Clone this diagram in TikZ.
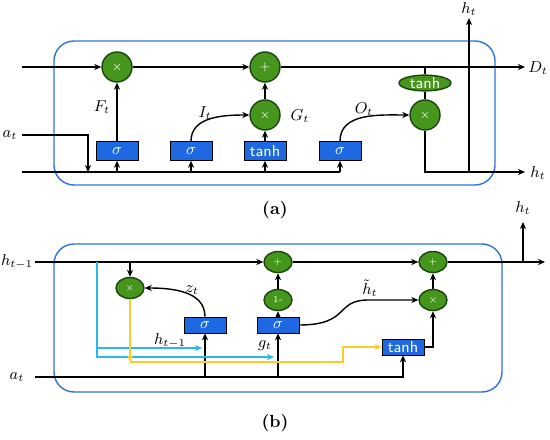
\documentclass[tikz,border=0pt]{standalone}
\usepackage{amsmath}
\usetikzlibrary{arrows.meta, shapes.geometric}

\definecolor{boxblue}{RGB}{30,105,225}
\definecolor{cellgreen}{RGB}{70,150,30}
\definecolor{darkgreen}{RGB}{25,70,10}
\definecolor{frameblue}{RGB}{45,115,215}
\definecolor{lineblue}{RGB}{40,185,235}
\definecolor{lineyellow}{RGB}{250,205,40}

\tikzset{
  gatebox/.style={draw=black, fill=boxblue, text=white, minimum width=0.84cm,
    minimum height=0.38cm, inner sep=0pt, font=\small\sffamily},
  opnode/.style={circle, draw=darkgreen, thick, fill=cellgreen, text=white,
    minimum size=0.6cm, inner sep=0pt, font=\scriptsize},
  opnodeb/.style={ellipse, draw=darkgreen, thick, fill=cellgreen, text=white,
    minimum width=0.56cm, minimum height=0.42cm, inner sep=0pt, font=\tiny},
  flow/.style={thick, -{Stealth[length=4pt,width=3.5pt]}},
  cellframe/.style={draw=frameblue, thick, rounded corners=0.4cm},
  lbl/.style={font=\small},
}

\begin{document}
\begin{tikzpicture}[x=0.02cm, y=-0.02cm]
  \useasboundingbox (0,0) rectangle (550,439);
  % Panel (a)
  \draw[cellframe] (54,41) rectangle (495,185);
  \node[opnode] (fmul) at (117,67) {$\times$};
  \node[opnode] (cadd) at (265,67) {$+$};
  \node[opnode] (imul) at (265,115) {$\times$};
  \node[opnode] (omul) at (425,115) {$\times$};
  \node[ellipse, draw=darkgreen, thick, fill=cellgreen, text=white, minimum width=1.04cm,
    minimum height=0.3cm, inner sep=0pt, font=\small\sffamily] (ctanh) at (425,83) {tanh};
  \node[gatebox] (fgate) at (117,151) {$\sigma$};
  \node[gatebox] (igate) at (191,151) {$\sigma$};
  \node[gatebox] (ggate) at (265,151) {tanh};
  \node[gatebox] (ogate) at (340,151) {$\sigma$};
  \coordinate (cin) at (22,67);
  \coordinate (cout) at (525,67);
  \coordinate (hin) at (22,172);
  \coordinate (hend) at (340,172);
  \coordinate (hout) at (525,172);
  \coordinate (ain) at (22,135);
  \coordinate (ajoin) at (88,172);
  \coordinate (hsplit) at (469,172);
  \coordinate (hup) at (469,18);
  \coordinate (ctap) at (425,67);
  \node[lbl] (atlbl) at (10,135) {$a_t$};
  \node[lbl] (ftlbl) at (102,107) {$F_t$};
  \node[lbl] (itlbl) at (205,113) {$I_t$};
  \node[lbl] (gtlbl) at (300,116) {$G_t$};
  \node[lbl] (otlbl) at (364,109) {$O_t$};
  \node[lbl] (dtlbl) at (538,68) {$D_t$};
  \node[lbl] (htlbl) at (538,173) {$h_t$};
  \node[lbl] (hulbl) at (469,9) {$h_t$};
  \draw[flow] (cin) -- (fmul);
  \draw[flow] (fmul) -- (cadd);
  \draw[flow] (cadd) -- (cout);
  \draw[thick] (ctap) -- (ctanh);
  \draw[thick] (ctanh) -- (omul);
  \draw[flow] (fgate) -- (fmul);
  \draw[flow] (ggate) -- (imul);
  \draw[flow] (imul) -- (cadd);
  \draw[flow] (igate.north) to[out=90, in=180] (imul.west);
  \draw[flow] (ogate.north) to[out=90, in=180] (omul.west);
  \draw[thick] (hin) -- (hend);
  \draw[flow] (ain) -| (ajoin);
  \draw[flow] (fgate.south |- hin) -- (fgate.south);
  \draw[flow] (igate.south |- hin) -- (igate.south);
  \draw[flow] (ggate.south |- hin) -- (ggate.south);
  \draw[flow] (hend) -- (ogate.south);
  \draw[flow] (omul.south) |- (hout);
  \draw[flow] (hsplit) -- (hup);
  \node[font=\bfseries] (alabel) at (275,210) {(a)};
  % Panel (b)
  \draw[cellframe] (54,244) rectangle (502,392);
  \node[opnodeb] (zmul) at (130,288) {$\times$};
  \node[opnodeb] (hadd1) at (278,262) {$+$};
  \node[opnodeb] (onem) at (278,300) {1-};
  \node[opnodeb] (hadd2) at (433,262) {$+$};
  \node[opnodeb] (hmul) at (433,300) {$\times$};
  \node[gatebox, minimum height=0.32cm] (zgate) at (205,325) {$\sigma$};
  \node[gatebox, minimum height=0.32cm] (rgate) at (278,325) {$\sigma$};
  \node[gatebox, minimum height=0.32cm] (hgate) at (403,347) {tanh};
  \coordinate (hprev) at (35,262);
  \coordinate (hnext) at (545,262);
  \coordinate (zsplit) at (130,262);
  \coordinate (bsplit) at (97,262);
  \coordinate (bend1) at (202,348);
  \coordinate (bend2) at (274,357);
  \coordinate (ydrop) at (130,362);
  \coordinate (ystep) at (343,347);
  \coordinate (hbend) at (368,300);
  \coordinate (xin) at (35,377);
  \coordinate (htap) at (523,262);
  \coordinate (htop) at (523,222);
  \node[lbl] (hprevlbl) at (17,262) {$h_{t-1}$};
  \node[lbl] (xinlbl) at (17,377) {$a_t$};
  \node[lbl] (ztlbl) at (192,290) {$z_t$};
  \node[lbl] (gtblbl) at (265,346) {$g_t$};
  \node[lbl] (hclbl) at (170,341) {$h_{t-1}$};
  \node[lbl] (htildelbl) at (370,288) {$\tilde{h}_t$};
  \node[lbl] (htblbl) at (523,208) {$h_t$};
  \draw[flow] (hprev) -- (hadd1);
  \draw[flow] (hadd1) -- (hadd2);
  \draw[flow] (hadd2) -- (hnext);
  \draw[flow] (htap) -- (htop);
  \draw[flow] (zsplit) -- (zmul);
  \draw[flow] (zgate.north) to[out=90, in=0] (zmul.east);
  \draw[flow] (rgate) -- (onem);
  \draw[flow] (onem) -- (hadd1);
  \draw[flow] (rgate.east) .. controls (350,325) and (335,300) .. (hbend) -- (hmul.west);
  \draw[flow] (hgate.east) -| (hmul.south);
  \draw[flow] (hmul) -- (hadd2);
  \draw[flow] (xin) -| (hgate.south);
  \draw[flow] (zgate.south |- xin) -- (zgate.south);
  \draw[flow] (rgate.south |- xin) -- (rgate.south);
  \draw[flow, lineblue] (bsplit) |- (bend1);
  \draw[flow, lineblue] (bsplit) |- (bend2);
  \draw[flow, lineyellow] (zmul.south) -- (ydrop);
  \draw[flow, lineyellow] (ydrop) -| (ystep) -- (hgate.west);
  \node[font=\bfseries] (blabel) at (275,423) {(b)};
\end{tikzpicture}
\end{document}
